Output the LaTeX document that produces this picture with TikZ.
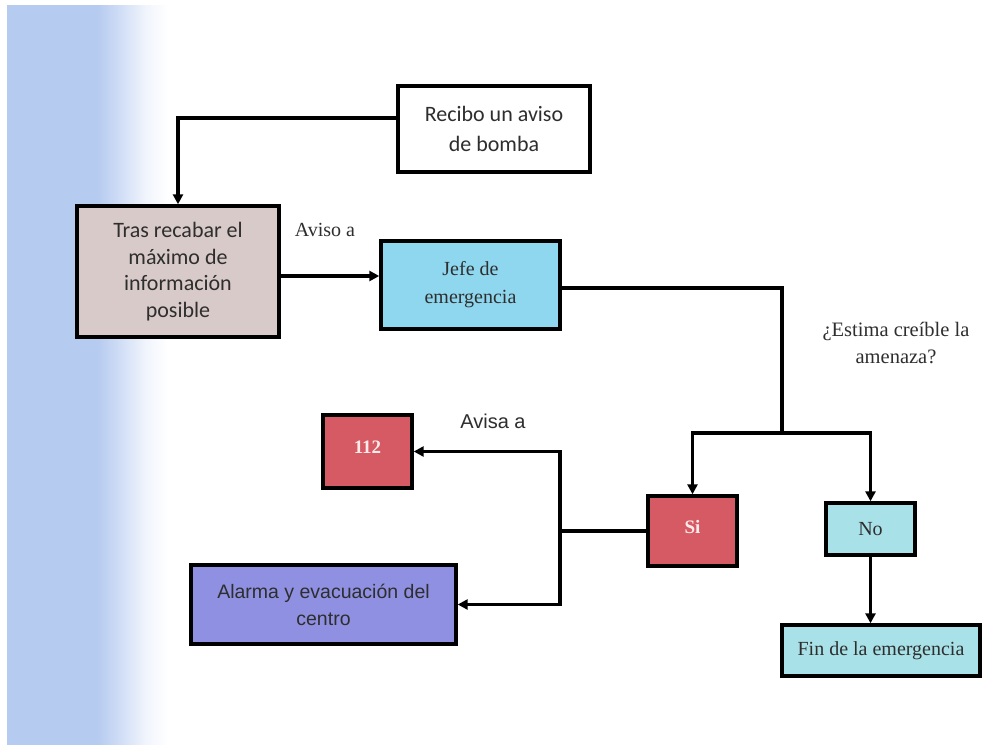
\documentclass[tikz,border=0pt]{standalone}
\usepackage{fontspec}
\setmainfont{Liberation Serif}
\newfontfamily\calf{Carlito}
\newfontfamily\arialf{Liberation Sans}
\usetikzlibrary{arrows.meta}
\definecolor{bgblue}{HTML}{B6CBF0}
\definecolor{trasfill}{HTML}{D8CAC8}
\definecolor{jefefill}{HTML}{8FD7EE}
\definecolor{redfill}{HTML}{D65A63}
\definecolor{cyanfill}{HTML}{A8E1E8}
\definecolor{alarmfill}{HTML}{8F90E2}
\definecolor{txt}{HTML}{2E2E2E}
\pgfdeclarehorizontalshading{bgshade}{100bp}{color(0bp)=(bgblue); color(25bp)=(bgblue); color(53bp)=(bgblue); color(60bp)=(white!35!bgblue); color(68bp)=(white!80!bgblue); color(75bp)=(white); color(100bp)=(white)}
\begin{document}
\begin{tikzpicture}[x=1pt,y=-1pt,
  box/.style={draw=black,line width=3.4pt,rectangle,inner sep=0pt,align=center,text=txt},
  conn/.style={line width=3.4pt,draw=black,line join=miter},
  arr/.style={conn,-{Triangle[length=10pt,width=10pt]}},
  lab/.style={text=txt,inner sep=0pt}]
\useasboundingbox (0,0) rectangle (982,744);
\fill[white] (0,0) rectangle (982,744);
\shade[shading=bgshade] (7,5) rectangle (168,744);

\node[box,fill=white,minimum width=192pt,minimum height=86pt,
  font=\calf\fontsize{22}{30}\selectfont] (recibo) at (494,129) {Recibo un aviso\\de bomba};
\node[box,fill=trasfill,minimum width=202pt,minimum height=131pt,
  font=\calf\fontsize{22}{26.5}\selectfont] (tras) at (178,271.5) {Tras recabar el\\máximo de\\información\\posible};
\node[box,fill=jefefill,minimum width=179pt,minimum height=88pt,
  font=\fontsize{20}{28}\selectfont] (jefe) at (470.5,285) {Jefe de\\emergencia};
\node[box,fill=redfill,minimum width=89pt,minimum height=70pt,text=white!92!red,
  font=\bfseries\fontsize{19}{22}\selectfont] (sibox) at (692.5,531) {\raisebox{9pt}{Si}};
\node[box,fill=cyanfill,minimum width=89pt,minimum height=52pt,
  font=\fontsize{20}{22}\selectfont] (nobox) at (870.5,529) {No};
\node[box,fill=cyanfill,minimum width=198pt,minimum height=51pt,
  font=\fontsize{20}{22}\selectfont] (fin) at (881,650.5) {Fin de la emergencia};
\node[box,fill=redfill,minimum width=89pt,minimum height=73pt,text=white!92!red,
  font=\bfseries\fontsize{19}{22}\selectfont] (n112) at (367.5,451.5) {\raisebox{9pt}{112}};
\node[box,fill=alarmfill,minimum width=265pt,minimum height=79pt,
  font=\arialf\fontsize{19.5}{27}\selectfont] (alarma) at (323.5,604.5) {Alarma y evacuación del\\centro};

\node[lab,font=\fontsize{20}{22}\selectfont] (avisoa) at (325,230) {Aviso a};
\node[lab,align=center,font=\fontsize{20.5}{27}\selectfont] (estima) at (896,343) {¿Estima creíble la\\amenaza?};
\node[lab,font=\arialf\fontsize{20}{24}\selectfont] (avisaa) at (493,421) {Avisa a};

\coordinate (r1) at ([yshift=11pt]recibo.west);
\draw[arr] (r1) -| (tras.north);
\coordinate (t1) at ([yshift=-4.5pt]tras.east);
\draw[arr] (t1) -- (t1 -| jefe.west);
\coordinate (j1) at ([yshift=-3pt]jefe.east);
\coordinate (split) at (782,433);
\draw[conn] (j1) -| (split);
\draw[arr] (split) -| (sibox.north);
\draw[arr] (split) -| (nobox.north);
\draw[arr] (nobox.south) -- (nobox.south |- fin.north);
\coordinate (m) at (560,531);
\draw[conn] (sibox.west) -- (m);
\draw[arr] (m) |- (n112.east);
\draw[arr] (m) |- (alarma.east);
\end{tikzpicture}
\end{document}
